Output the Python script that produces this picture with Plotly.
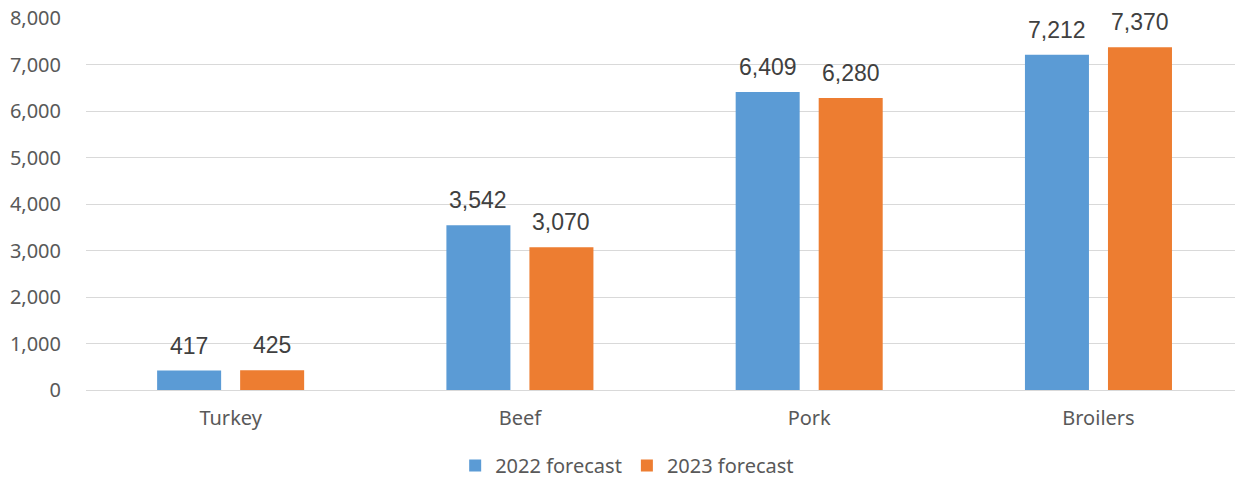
import plotly.graph_objects as go

categories = ["Turkey", "Beef", "Pork", "Broilers"]
forecast_2022 = [417, 3542, 6409, 7212]
forecast_2023 = [425, 3070, 6280, 7370]
series_names = ["2022 forecast", "2023 forecast"]
y_ticks = [0, 1000, 2000, 3000, 4000, 5000, 6000, 7000, 8000]

blue = "#5B9BD5"
orange = "#ED7D31"

fig = go.Figure()
fig.add_trace(go.Bar(name=series_names[0], x=categories, y=forecast_2022,
                     marker=dict(color=blue, line=dict(width=0))))
fig.add_trace(go.Bar(name=series_names[1], x=categories, y=forecast_2023,
                     marker=dict(color=orange, line=dict(width=0))))

# value labels above each bar, offset to its slot within the group
for values, shift in ((forecast_2022, -41.5), (forecast_2023, 41.5)):
    for cat, v in zip(categories, values):
        fig.add_annotation(x=cat, y=v, text=f"{v:,}", showarrow=False,
                           xshift=shift, yshift=10, yanchor="bottom",
                           font=dict(family="Liberation Sans, Arial", size=23, color="#404040"))

fig.update_layout(
    width=1235, height=485,
    margin=dict(l=86, r=0, t=18, b=95),
    paper_bgcolor="white", plot_bgcolor="white",
    barmode="group", bargap=0.426, bargroupgap=0.229,
    font=dict(family="Noto Sans", color="#595959"),
    legend=dict(orientation="h", x=0.471, xanchor="center",
                yref="container", y=0.0, yanchor="bottom",
                font=dict(size=20, color="#595959"),
                itemwidth=30, tracegroupgap=0),
    xaxis=dict(range=[-0.5, 3.472], showgrid=False, showline=False,
               ticks="", tickfont=dict(size=20, color="#595959"),
               ticklabelstandoff=14),
    yaxis=dict(range=[0, 8000], tickvals=y_ticks, tickformat=",",
               showgrid=True, gridcolor="#D9D9D9", gridwidth=1,
               zeroline=True, zerolinecolor="#D9D9D9", zerolinewidth=1,
               showline=False, ticks="", ticklabelstandoff=24,
               tickfont=dict(size=20, color="#595959")),
)

fig.write_html("out.html")
